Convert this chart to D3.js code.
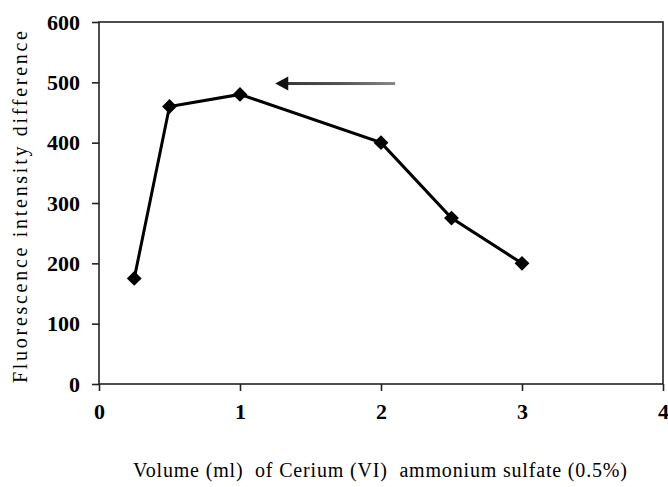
<!DOCTYPE html>
<html>
<head>
<meta charset="utf-8">
<script src="https://cdn.jsdelivr.net/npm/d3@7.9.0/dist/d3.min.js"></script>
<style>
  body { margin: 0; background: #fff; }
</style>
</head>
<body>
<svg id="chart" width="668" height="487"></svg>
<script>
// data
const volumes = [0.25, 0.5, 1, 2, 2.5, 3];
const intensity = [175, 460, 480, 400, 275, 200];
const xTicks = [0, 1, 2, 3, 4];
const yTicks = [0, 100, 200, 300, 400, 500, 600];

const fontName = "'Liberation Serif'";
const svg = d3.select('#chart');
const plotLeft = 99, plotRight = 663, plotTop = 22, plotBottom = 384;

let x = d3.scaleLinear().domain([0, 4]).range([plotLeft, plotRight]);
let y = d3.scaleLinear().domain([0, 600]).range([plotBottom, plotTop]);

// plot frame
svg.append('rect')
  .attr('x', plotLeft).attr('y', plotTop)
  .attr('width', plotRight - plotLeft).attr('height', plotBottom - plotTop)
  .attr('fill', 'none').attr('stroke', '#222').attr('stroke-width', 1.6);

// axes
let yAxis = d3.axisLeft(y).tickValues(yTicks).tickFormat(d3.format('d')).tickSize(7).tickPadding(12);
let xAxis = d3.axisBottom(x).tickValues(xTicks).tickFormat(d3.format('d')).tickSize(7).tickPadding(11);

let gy = svg.append('g').attr('transform', `translate(${plotLeft},0)`).call(yAxis);
let gx = svg.append('g').attr('transform', `translate(0,${plotBottom})`).call(xAxis);

[gy, gx].forEach((g) => {
  g.attr('font-family', null).attr('font-size', null);
  g.select('.domain').remove();
  g.selectAll('line').attr('stroke', '#222').attr('stroke-width', 1.6);
  g.selectAll('text')
    .style('font-family', fontName)
    .style('font-size', '22px')
    .style('font-weight', 'bold')
    .attr('fill', '#000');
});
gx.selectAll('text').attr('dy', '0.78em');

// axis titles
svg.append('text')
  .attr('transform', 'translate(27,207) rotate(-90)')
  .attr('text-anchor', 'middle')
  .style('font-family', fontName)
  .style('font-size', '20px')
  .attr('textLength', 352)
  .text('Fluorescence intensity difference');

svg.append('text')
  .attr('x', 380).attr('y', 477)
  .attr('text-anchor', 'middle')
  .style('font-family', fontName)
  .style('font-size', '20px')
  .style('white-space', 'pre')
  .attr('textLength', 494)
  .text('Volume (ml)  of Cerium (VI)  ammonium sulfate (0.5%)');

// series line
let pts = volumes.map((v, i) => [v, intensity[i]]);
let line = d3.line().x((d) => x(d[0])).y((d) => y(d[1]));

svg.append('path')
  .attr('d', line(pts))
  .attr('fill', 'none')
  .attr('stroke', '#000')
  .attr('stroke-width', 3);

// diamond markers
svg.selectAll('.marker')
  .data(pts)
  .join('path')
  .attr('class', 'marker')
  .attr('d', d3.symbol().type(d3.symbolDiamond2).size(140))
  .attr('transform', (d) => `translate(${x(d[0])},${y(d[1])})`)
  .attr('fill', '#000');

// arrow pointing at the maximum
const arrowFrom = [2.1, 498], arrowTo = [1.25, 498];
let grad = svg.append('defs').append('linearGradient')
  .attr('id', 'arrowGrad')
  .attr('x1', '0%').attr('x2', '100%');
grad.append('stop').attr('offset', '0%').attr('stop-color', '#333');
grad.append('stop').attr('offset', '55%').attr('stop-color', '#555');
grad.append('stop').attr('offset', '100%').attr('stop-color', '#888');

svg.append('rect')
  .attr('x', x(arrowTo[0]) + 8)
  .attr('y', y(arrowFrom[1]) - 1.5)
  .attr('width', x(arrowFrom[0]) - x(arrowTo[0]) - 8)
  .attr('height', 3)
  .attr('fill', 'url(#arrowGrad)');

svg.append('path')
  .attr('d', `M${x(arrowTo[0])},${y(arrowTo[1])} l13,-7 l0,14 z`)
  .attr('fill', '#111');
</script>
</body>
</html>
